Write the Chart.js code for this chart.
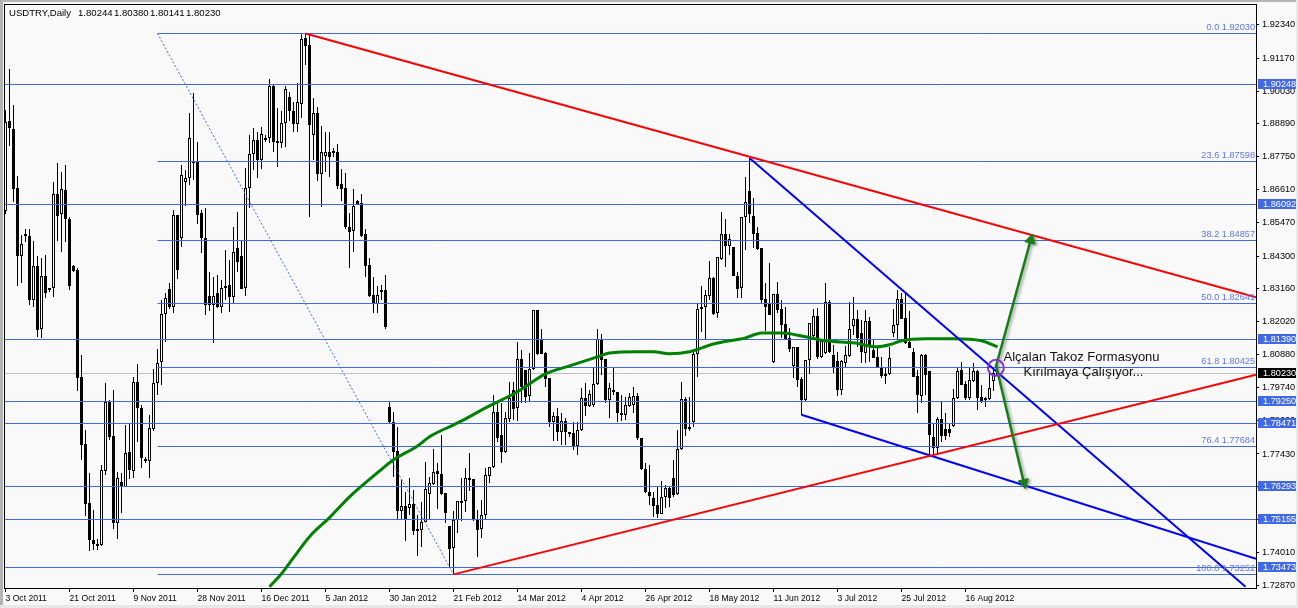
<!DOCTYPE html>
<html><head><meta charset="utf-8">
<style>html,body{margin:0;padding:0;background:#f9f9f9;overflow:hidden}canvas{display:block}</style>
<script src="https://cdn.jsdelivr.net/npm/chart.js@4/dist/chart.umd.min.js"></script>
</head><body><canvas id="c" width="1298" height="608"></canvas>
<script>
const symbolTitle="USDTRY,Daily";
const titleValues=["1.80244","1.80380","1.80141","1.80230"];
const dateLabels=["3 Oct 2011","21 Oct 2011","9 Nov 2011","28 Nov 2011","16 Dec 2011","5 Jan 2012","30 Jan 2012","21 Feb 2012","14 Mar 2012","4 Apr 2012","26 Apr 2012","18 May 2012","11 Jun 2012","3 Jul 2012","25 Jul 2012","16 Aug 2012"];
const priceTicks=[1.9234,1.9117,1.9003,1.8889,1.8775,1.8661,1.8547,1.843,1.8316,1.8202,1.8088,1.7974,1.786,1.7743,1.7629,1.7515,1.7401,1.7287];
const highs=[1.8937,1.9080,1.8955,1.8708,1.8504,1.8524,1.8524,1.8483,1.8431,1.8424,
1.8434,1.8320,1.8687,1.8753,1.8722,1.8746,1.8566,1.8399,1.8389,1.8087,
1.7827,1.7678,1.7549,1.7449,1.7705,1.7990,1.7931,1.7966,1.7681,1.7678,
1.7844,1.7851,1.8011,1.8056,1.7914,1.7733,1.7879,1.8039,1.8108,1.8278,
1.8302,1.8337,1.8590,1.8573,1.8746,1.8729,1.8927,1.8996,1.8826,1.8590,
1.8597,1.8375,1.8358,1.8365,1.8347,1.8451,1.8417,1.8531,1.8583,1.8486,
1.8736,1.8851,1.8875,1.8861,1.8878,1.8851,1.9045,1.9024,1.8944,1.8934,
1.9021,1.9000,1.8965,1.9031,1.9204,1.9204,1.9198,1.8979,1.8948,1.8882,
1.8861,1.8861,1.8805,1.8819,1.8733,1.8719,1.8580,1.8663,1.8625,1.8646,
1.8524,1.8424,1.8358,1.8327,1.8330,1.8365,1.7924,1.7889,1.7837,1.7657,
1.7612,1.7660,1.7619,1.7532,1.7577,1.7716,1.7664,1.7761,1.7712,1.7810,
1.7608,1.7494,1.7546,1.7581,1.7660,1.7695,1.7747,1.7657,1.7549,1.7584,
1.7695,1.7699,1.7948,1.7924,1.7921,1.7889,1.7993,1.7993,1.8132,1.8105,
1.8035,1.8094,1.8243,1.8243,1.8177,1.8098,1.8007,1.7889,1.7903,1.7886,
1.7869,1.7820,1.7855,1.7855,1.7973,1.7990,1.7966,1.8042,1.8177,1.8160,
1.8073,1.7990,1.8042,1.7959,1.7948,1.7941,1.7955,1.7976,1.7955,1.7799,
1.7712,1.7705,1.7612,1.7629,1.7650,1.7636,1.7629,1.7723,1.7827,1.7993,
1.7941,1.7941,1.8105,1.8268,1.8327,1.8313,1.8413,1.8358,1.8427,1.8583,
1.8559,1.8507,1.8462,1.8375,1.8566,1.8705,1.8771,1.8632,1.8531,1.8458,
1.8337,1.8406,1.8299,1.8340,1.8278,1.8254,1.8181,1.8115,1.8115,1.8011,
1.8070,1.8198,1.8247,1.8250,1.8136,1.8337,1.8278,1.8122,1.8098,1.8070,
1.8118,1.8271,1.8288,1.8243,1.8209,1.8243,1.8219,1.8139,1.8111,1.8080,
1.8042,1.8115,1.8247,1.8313,1.8302,1.8306,1.8240,1.8111,1.8035,1.8091,
1.8091,1.8032,1.7851,1.7872,1.7924,1.7886,1.7851,1.7969,1.8046,1.8063,
1.7997,1.8042,1.8059,1.8035,1.7983,1.7941,1.8025,1.8042,1.8038];
const lows=[1.8576,1.8812,1.8618,1.8327,1.8337,1.8479,1.8261,1.8254,1.8150,1.8146,
1.8285,1.8306,1.8288,1.8483,1.8445,1.8479,1.8313,1.8375,1.7962,1.7723,
1.7528,1.7407,1.7411,1.7411,1.7424,1.7671,1.7792,1.7483,1.7449,1.7539,
1.7629,1.7657,1.7660,1.7785,1.7695,1.7712,1.7660,1.7823,1.7948,1.7983,
1.8132,1.8247,1.8233,1.8351,1.8462,1.8604,1.8677,1.8694,1.8542,1.8441,
1.8226,1.8240,1.8129,1.8250,1.8233,1.8278,1.8236,1.8268,1.8375,1.8316,
1.8292,1.8597,1.8729,1.8701,1.8733,1.8826,1.8823,1.8792,1.8740,1.8805,
1.8809,1.8899,1.8861,1.8861,1.8910,1.9093,1.8566,1.8764,1.8691,1.8601,
1.8722,1.8705,1.8774,1.8663,1.8622,1.8524,1.8389,1.8445,1.8608,1.8497,
1.8358,1.8288,1.8233,1.8233,1.8278,1.8177,1.7851,1.7664,1.7518,1.7515,
1.7442,1.7532,1.7463,1.7390,1.7421,1.7508,1.7515,1.7636,1.7553,1.7601,
1.7504,1.7348,1.7325,1.7469,1.7511,1.7542,1.7615,1.7511,1.7386,1.7452,
1.7518,1.7643,1.7695,1.7785,1.7712,1.7747,1.7855,1.7862,1.7858,1.7921,
1.7921,1.7924,1.8035,1.8087,1.8091,1.7976,1.7837,1.7789,1.7789,1.7775,
1.7775,1.7803,1.7758,1.7740,1.7823,1.7875,1.7907,1.7907,1.7983,1.8018,
1.7921,1.7869,1.7948,1.7855,1.7858,1.7862,1.7907,1.7886,1.7792,1.7688,
1.7608,1.7567,1.7525,1.7522,1.7535,1.7556,1.7560,1.7594,1.7601,1.7758,
1.7806,1.7823,1.7837,1.8011,1.8167,1.8139,1.8278,1.8226,1.8216,1.8417,
1.8392,1.8434,1.8361,1.8285,1.8285,1.8451,1.8545,1.8458,1.8451,1.8268,
1.8170,1.8226,1.8059,1.8233,1.8146,1.8143,1.8098,1.8007,1.7976,1.7879,
1.7924,1.8021,1.8150,1.8073,1.8077,1.8091,1.8094,1.8025,1.7945,1.7948,
1.8042,1.8080,1.8157,1.8115,1.8059,1.8059,1.8063,1.8077,1.8042,1.8007,
1.7987,1.8018,1.8150,1.8139,1.8212,1.8125,1.8111,1.8011,1.7886,1.7921,
1.7948,1.7740,1.7744,1.7747,1.7785,1.7792,1.7803,1.7837,1.7934,1.7983,
1.7931,1.7931,1.7993,1.7896,1.7921,1.7907,1.7931,1.7962,1.8014];
const opens=[1.8587,1.8899,1.8871,1.8667,1.8431,1.8507,1.8500,1.8278,1.8396,1.8177,
1.8361,1.8320,1.8320,1.8646,1.8576,1.8660,1.8559,1.8396,1.8382,1.8011,
1.7778,1.7574,1.7445,1.7431,1.7428,1.7685,1.7924,1.7806,1.7504,1.7646,
1.7629,1.7751,1.7685,1.7993,1.7903,1.7726,1.7719,1.7830,1.7990,1.8063,
1.8229,1.8316,1.8254,1.8573,1.8493,1.8687,1.8701,1.8760,1.8757,1.8580,
1.8493,1.8292,1.8261,1.8302,1.8254,1.8320,1.8330,1.8288,1.8458,1.8431,
1.8320,1.8667,1.8785,1.8833,1.8764,1.8840,1.8840,1.9021,1.8830,1.8823,
1.8892,1.8982,1.8934,1.8889,1.8958,1.9187,1.9163,1.8851,1.8927,1.8715,
1.8778,1.8792,1.8788,1.8792,1.8681,1.8667,1.8531,1.8517,1.8622,1.8615,
1.8507,1.8399,1.8295,1.8264,1.8313,1.8313,1.7907,1.7855,1.7754,1.7546,
1.7563,1.7556,1.7570,1.7483,1.7480,1.7508,1.7605,1.7640,1.7685,1.7674,
1.7608,1.7494,1.7417,1.7515,1.7581,1.7581,1.7660,1.7657,1.7515,1.7483,
1.7532,1.7667,1.7699,1.7889,1.7810,1.7751,1.7865,1.7966,1.7903,1.8073,
1.8035,1.7945,1.8039,1.8243,1.8139,1.8094,1.8007,1.7855,1.7875,1.7820,
1.7858,1.7820,1.7816,1.7771,1.7827,1.7938,1.7910,1.7914,1.7987,1.8139,
1.8073,1.7931,1.7966,1.7959,1.7886,1.7879,1.7910,1.7914,1.7945,1.7799,
1.7692,1.7612,1.7591,1.7567,1.7535,1.7594,1.7626,1.7660,1.7605,1.7761,
1.7934,1.7837,1.7855,1.8091,1.8247,1.8254,1.8292,1.8354,1.8233,1.8420,
1.8507,1.8465,1.8462,1.8361,1.8320,1.8566,1.8656,1.8569,1.8510,1.8458,
1.8281,1.8268,1.8063,1.8299,1.8247,1.8195,1.8146,1.8049,1.8115,1.8004,
1.7931,1.8070,1.8153,1.8222,1.8080,1.8094,1.8271,1.8087,1.8066,1.7966,
1.8059,1.8084,1.8188,1.8212,1.8163,1.8094,1.8205,1.8105,1.8080,1.8046,
1.8021,1.8021,1.8164,1.8191,1.8281,1.8216,1.8132,1.8098,1.8014,1.7945,
1.8087,1.8032,1.7803,1.7764,1.7865,1.7830,1.7830,1.7841,1.7938,1.8035,
1.7986,1.7938,1.7997,1.8032,1.7941,1.7938,1.7934,1.7997,1.80244];
const closes=[1.8896,1.8875,1.8663,1.8431,1.8472,1.8500,1.8278,1.8396,1.8174,1.8361,
1.8302,1.8313,1.8646,1.8569,1.8663,1.8559,1.8327,1.8379,1.8007,1.7775,
1.7570,1.7445,1.7431,1.7424,1.7688,1.7924,1.7803,1.7504,1.7660,1.7629,
1.7747,1.7688,1.7993,1.7903,1.7730,1.7719,1.7834,1.7990,1.8059,1.8229,
1.8285,1.8254,1.8573,1.8382,1.8712,1.8701,1.8840,1.8753,1.8573,1.8493,
1.8261,1.8261,1.8292,1.8254,1.8320,1.8327,1.8288,1.8445,1.8410,1.8316,
1.8667,1.8785,1.8833,1.8764,1.8854,1.8837,1.9021,1.8826,1.8823,1.8892,
1.9010,1.8934,1.8889,1.8965,1.9184,1.9159,1.8885,1.8927,1.8715,1.8792,
1.8792,1.8774,1.8795,1.8674,1.8663,1.8531,1.8514,1.8604,1.8611,1.8500,
1.8396,1.8292,1.8264,1.8295,1.8306,1.8184,1.7855,1.7751,1.7546,1.7563,
1.7518,1.7570,1.7476,1.7476,1.7508,1.7622,1.7643,1.7681,1.7674,1.7605,
1.7539,1.7414,1.7515,1.7581,1.7577,1.7660,1.7653,1.7515,1.7480,1.7532,
1.7671,1.7699,1.7889,1.7799,1.7751,1.7869,1.7938,1.7900,1.8073,1.7976,
1.7941,1.8039,1.8243,1.8091,1.8091,1.8004,1.7855,1.7875,1.7820,1.7858,
1.7820,1.7813,1.7771,1.7827,1.7938,1.7910,1.7952,1.7987,1.8143,1.8070,
1.7931,1.7973,1.7959,1.7886,1.7879,1.7914,1.7941,1.7945,1.7799,1.7692,
1.7612,1.7598,1.7563,1.7535,1.7594,1.7626,1.7591,1.7601,1.7761,1.7934,
1.7830,1.7830,1.8091,1.8247,1.8254,1.8295,1.8354,1.8229,1.8427,1.8507,
1.8465,1.8490,1.8361,1.8316,1.8566,1.8618,1.8576,1.8507,1.8455,1.8278,
1.8254,1.8226,1.8299,1.8243,1.8191,1.8143,1.8108,1.8115,1.8000,1.7931,
1.8070,1.8198,1.8222,1.8080,1.8136,1.8271,1.8098,1.8042,1.7966,1.8066,
1.8087,1.8177,1.8212,1.8146,1.8098,1.8205,1.8115,1.8077,1.8046,1.8014,
1.8014,1.8077,1.8191,1.8281,1.8212,1.8129,1.8111,1.8011,1.7948,1.8087,
1.8018,1.7810,1.7764,1.7865,1.7806,1.7806,1.7816,1.7938,1.8032,1.7983,
1.7938,1.8000,1.8032,1.7938,1.7927,1.7931,1.7973,1.8025,1.8023];
const maBars=[66,69,72,76,81,86,93,97,103,106,112,115,120,128,135,141,148,151,158,162,166,171,177,185,189,194,200,205,212,218,221,224,230,237,244,248];
const maPrices=[1.7282,1.7327,1.7383,1.7456,1.7522,1.7594,1.7678,1.7723,1.7771,1.7803,1.7844,1.7865,1.7903,1.7959,1.8021,1.8049,1.8080,1.8094,1.8098,1.8098,1.8091,1.8098,1.8125,1.8146,1.8163,1.8163,1.8150,1.8136,1.8129,1.8115,1.8122,1.8136,1.8143,1.8143,1.8136,1.8115];
const fullLevels=[1.90248,1.86092,1.8139,1.7925,1.78471,1.76293,1.75155,1.73473];
const fibRatios=["0.0","23.6","38.2","50.0","61.8","76.4","100.0"];
const fibLevels=[1.9203,1.87598,1.84857,1.82641,1.80425,1.77684,1.73252];
const bidPrice=1.8023;
const xMin=-0.125, xMax=312.625, fibStartBar=38;
const fibTrendBars=[38,112], fibTrendPrices=[1.9203,1.73252];
const redTopBars=[75,312.625], redTopPrices=[1.9203,1.8287];
const redLowBars=[112,312.625], redLowPrices=[1.7325,1.8018];
const blueTopBars=[186,310], blueTopPrices=[1.8771,1.7282];
const blueLowBars=[199,312.625], blueLowPrices=[1.7879,1.7379];
const arrowUpBars=[247.6,256.3], arrowUpPrices=[1.8046,1.8486];
const arrowDownBars=[247.6,254.6], arrowDownPrices=[1.8053,1.7643];
const circleBar=247.6, circlePrice=1.8042;
const noteLines=["Alçalan Takoz Formasyonu","Kırılmaya Çalışıyor..."];

const BLUE='#4169E1', pts=(xs,ys)=>xs.map((x,i)=>({x,y:ys[i]}));
const lineDs=(data,color,width,order,extra)=>Object.assign({type:'line',data,borderColor:color,borderWidth:width,pointRadius:0,tension:0,fill:false,order},extra||{});
const AXFONT={family:'"Liberation Sans",Arial,sans-serif',size:9.2};
const datasets=[
 {type:'bar',data:highs.map((h,i)=>({x:i,y:[lows[i],h]})),barThickness:1,grouped:false,backgroundColor:'#000',borderWidth:0,inflateAmount:0,order:20,wick:true},
 {type:'bar',data:opens.map((o,i)=>({x:i,y:[Math.min(o,closes[i]),Math.max(o,closes[i])]})),barThickness:3,grouped:false,
  backgroundColor:opens.map((o,i)=>closes[i]>o?'#ffffff':'#000000'),borderColor:'#000',borderWidth:1,borderSkipped:false,inflateAmount:0,order:19,body:true},
 lineDs(pts([xMin,xMax],[bidPrice,bidPrice]),'#C0C0C0',1,25,{hline:true})
];
fullLevels.forEach(v=>datasets.push(lineDs(pts([xMin,xMax],[v,v]),BLUE,1,6,{hline:true})));
fibLevels.forEach(v=>datasets.push(lineDs(pts([fibStartBar,xMax],[v,v]),BLUE,1,6,{hline:true})));
datasets.push(lineDs(pts(fibTrendBars,fibTrendPrices),BLUE,1,5,{borderDash:[2,2]}));
datasets.push(lineDs(pts(maBars,maPrices),'#008000',3,4,{cubicInterpolationMode:'monotone'}));
datasets.push(lineDs(pts(redTopBars,redTopPrices),'#FF0000',2,3));
datasets.push(lineDs(pts(redLowBars,redLowPrices),'#FF0000',2,3));
datasets.push(lineDs(pts(blueTopBars,blueTopPrices),'#0000FF',2,3));
datasets.push(lineDs(pts(blueLowBars,blueLowPrices),'#0000FF',2,3));
datasets.push(lineDs(pts(arrowUpBars,arrowUpPrices),'#148014',2.5,2,{arrow:true,pointRadius:[0,6],pointStyle:'triangle',pointRotation:[0,15],pointBackgroundColor:'#148014',pointBorderColor:'#148014',pointBorderWidth:1}));
datasets.push(lineDs(pts(arrowDownBars,arrowDownPrices),'#148014',2.5,2,{arrow:true,pointRadius:[0,6],pointStyle:'triangle',pointRotation:[0,167],pointBackgroundColor:'#148014',pointBorderColor:'#148014',pointBorderWidth:1}));
datasets.push({type:'scatter',data:[{x:circleBar,y:circlePrice}],pointRadius:8,pointStyle:'circle',pointBackgroundColor:'rgba(0,0,0,0)',pointBorderColor:'#8A2BE2',pointBorderWidth:2,order:1});

const render={id:'render',
 beforeDraw(ch){const c=ch.ctx;c.save();c.fillStyle='#F9F9F9';c.fillRect(0,0,1298,608);
  c.fillStyle='#B4B4B4';c.fillRect(0,0,1298,2);c.fillRect(0,0,3,608);c.fillStyle='#E8E8E8';c.fillRect(0,605,1298,3);c.fillRect(1296,0,2,608);c.restore();},
 beforeDatasetsDraw(ch){ch.data.datasets.forEach((d,i)=>{const m=ch.getDatasetMeta(i);
   if(d.hline)m.data.forEach(p=>{p.y=Math.floor(p.y)+.5;});
   if(d.wick||d.body)m.data.forEach(b=>{b.y=Math.round(b.y);b.base=Math.round(b.base);if(b.base-b.y<(d.body?2:1))b.base=b.y+(d.body?2:1);});
 });},
 beforeDatasetDraw(ch,a){if(ch.data.datasets[a.index].arrow){const c=ch.ctx;c.save();c.shadowColor='rgba(90,90,90,.55)';c.shadowBlur=3;c.shadowOffsetX=2;c.shadowOffsetY=1;}},
 afterDatasetDraw(ch,a){if(ch.data.datasets[a.index].arrow)ch.ctx.restore();},
 afterDraw(ch){const c=ch.ctx,y=ch.scales.y,x=ch.scales.x,A=ch.chartArea;c.save();
  c.strokeStyle='#000';c.lineWidth=1;c.strokeRect(A.left-.5,A.top-.5,A.right-A.left+1,A.bottom-A.top+1);
  c.textBaseline='middle';
  c.font='9.2px "Liberation Sans",Arial,sans-serif';c.fillStyle='#6078E4';c.textAlign='right';
  fibLevels.forEach((v,i)=>c.fillText(fibRatios[i]+' '+v.toFixed(5),1255,Math.floor(y.getPixelForValue(v))-6));
  c.textAlign='left';
  const box=(v,bg)=>{const p=Math.floor(y.getPixelForValue(v));c.fillStyle=bg;c.fillRect(1258,p-5,38,10);c.fillStyle='#fff';c.fillText(v.toFixed(5),1263,p+.5);};
  fullLevels.forEach(v=>box(v,BLUE));box(bidPrice,'#000');
  c.fillStyle='#000';c.font='9.6px "Liberation Sans",Arial,sans-serif';c.fillText(symbolTitle,9,13);
  titleValues.forEach((t,i)=>c.fillText(t,78+36*i,13));
  c.font='13px "Liberation Sans",Arial,sans-serif';c.fillStyle='#111';
  c.fillText(noteLines[0],x.getPixelForValue(249.5),y.getPixelForValue(1.8077));
  c.fillText(noteLines[1],x.getPixelForValue(254.5),y.getPixelForValue(1.8025));
  c.restore();}
};
new Chart(document.getElementById('c'),{type:'bar',data:{datasets},plugins:[render],options:{
 responsive:false,animation:false,devicePixelRatio:1,events:[],
 layout:{autoPadding:false,padding:{left:5,top:5,right:0,bottom:0}},
 plugins:{legend:{display:false},tooltip:{enabled:false}},
 scales:{
  x:{type:'linear',offset:false,min:xMin,max:xMax,
     grid:{offset:false,drawOnChartArea:false,tickLength:4,color:'#000'},border:{display:false},
     afterBuildTicks:s=>{s.ticks=dateLabels.map((_,i)=>({value:i*16}));},
     afterFit:s=>{s.height=20;s.paddingLeft=0;s.paddingRight=0;},
     ticks:{autoSkip:false,maxRotation:0,align:'start',padding:1,color:'#000',font:{family:AXFONT.family,size:8.6},callback:v=>dateLabels[Math.round(v/16)]}},
  y:{type:'linear',position:'right',min:1.9203-554.5/2880,max:1.9203+28.5/2880,
     grid:{drawOnChartArea:false,tickLength:3,color:'#000'},border:{display:false},
     afterBuildTicks:s=>{s.ticks=priceTicks.map(v=>({value:v}));},
     afterFit:s=>{s.width=42;s.paddingTop=0;s.paddingBottom=0;},
     ticks:{autoSkip:false,padding:3,color:'#000',font:AXFONT,callback:v=>v.toFixed(5)}}
 }}});
</script></body></html>
